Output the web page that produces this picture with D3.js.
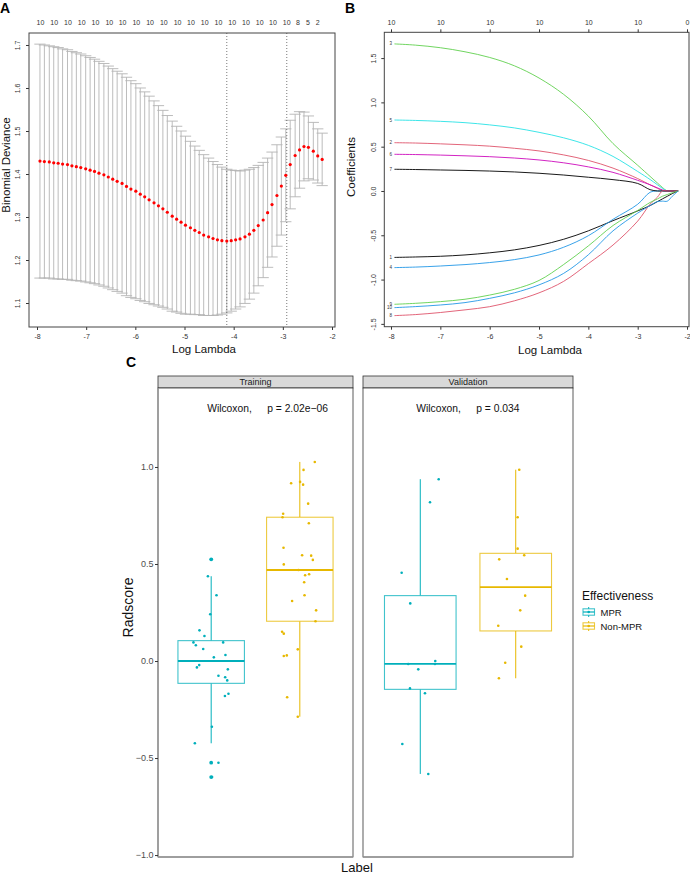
<!DOCTYPE html>
<html>
<head>
<meta charset="utf-8">
<script src="https://cdn.jsdelivr.net/npm/d3@7"></script>
<style>
  body { margin: 0; background: #fff; }
  svg { display: block; }
  text { font-family: "Liberation Sans", Arial, Helvetica, sans-serif; }
</style>
</head>
<body>
<svg id="fig" width="690" height="876"></svg>
<script>
// ---------- A: cross-validated binomial deviance ----------
const cvLogLambda = [
  -7.94, -7.85, -7.75, -7.66, -7.57, -7.48, -7.38, -7.29, -7.20, -7.11,
  -7.01, -6.92, -6.83, -6.74, -6.64, -6.55, -6.46, -6.37, -6.27, -6.18,
  -6.09, -5.99, -5.90, -5.81, -5.72, -5.62, -5.53, -5.44, -5.35, -5.25,
  -5.16, -5.07, -4.98, -4.88, -4.79, -4.70, -4.61, -4.51, -4.42, -4.33,
  -4.24, -4.14, -4.05, -3.96, -3.87, -3.77, -3.68, -3.59, -3.50, -3.40,
  -3.31, -3.22, -3.12, -3.03, -2.94, -2.85, -2.75, -2.66, -2.57, -2.48,
  -2.38, -2.29, -2.20
];
const cvMean = [
  1.430, 1.429, 1.428, 1.426, 1.425, 1.423, 1.422, 1.419, 1.417, 1.415,
  1.412, 1.409, 1.406, 1.402, 1.398, 1.393, 1.388, 1.383, 1.378, 1.371,
  1.365, 1.360, 1.353, 1.347, 1.340, 1.333, 1.326, 1.319, 1.311, 1.302,
  1.295, 1.288, 1.281, 1.275, 1.269, 1.264, 1.258, 1.254, 1.250, 1.247,
  1.245, 1.244, 1.245, 1.247, 1.249, 1.254, 1.260, 1.269, 1.280, 1.293,
  1.310, 1.329, 1.350, 1.372, 1.397, 1.422, 1.443, 1.456, 1.464, 1.462,
  1.453, 1.442, 1.434
];
const cvSd = [
  0.272, 0.271, 0.270, 0.270, 0.269, 0.268, 0.267, 0.266, 0.265, 0.264,
  0.263, 0.262, 0.261, 0.260, 0.259, 0.258, 0.257, 0.256, 0.255, 0.254,
  0.252, 0.250, 0.247, 0.244, 0.241, 0.237, 0.233, 0.229, 0.225, 0.221,
  0.216, 0.212, 0.207, 0.201, 0.196, 0.191, 0.187, 0.183, 0.179, 0.175,
  0.171, 0.167, 0.164, 0.161, 0.158, 0.155, 0.151, 0.146, 0.140, 0.134,
  0.127, 0.122, 0.118, 0.114, 0.108, 0.103, 0.096, 0.089, 0.080, 0.073,
  0.067, 0.063, 0.061
];
const cvTopAt = [-7.93, -7.65, -7.37, -7.09, -6.81, -6.53, -6.26, -5.98, -5.70, -5.42,
  -5.14, -4.87, -4.59, -4.31, -4.03, -3.75, -3.47, -3.20, -2.92, -2.69, -2.49, -2.29];
const cvTopLabels = ['10', '10', '10', '10', '10', '10', '10', '10', '10', '10',
  '10', '10', '10', '10', '10', '10', '10', '10', '10', '8', '5', '2'];
const lambdaMin = -4.14;
const lambda1se = -2.92;
const devianceTicks = [1.1, 1.2, 1.3, 1.4, 1.5, 1.6, 1.7];

// ---------- B: lasso coefficient paths ----------
const pathLogLambda = [-7.93, -7.5, -7, -6.5, -6, -5.5, -5, -4.5, -4, -3.5, -3, -2.75, -2.6, -2.5, -2.4, -2.3, -2.18];
const coef1 = [-0.750, -0.745, -0.737, -0.722, -0.698, -0.665, -0.615, -0.545, -0.450, -0.335, -0.225, -0.165, -0.120, -0.090, -0.060, -0.030, 0];
const coef2 = [0.545, 0.541, 0.532, 0.521, 0.506, 0.482, 0.452, 0.407, 0.345, 0.258, 0.140, 0.070, 0.030, 0.005, 0, 0, 0];
const coef3 = [1.660, 1.646, 1.617, 1.571, 1.507, 1.413, 1.275, 1.090, 0.845, 0.535, 0.290, 0.165, 0.090, 0.040, 0, 0, 0];
const coef4 = [-0.865, -0.859, -0.847, -0.831, -0.808, -0.775, -0.722, -0.635, -0.505, -0.320, -0.150, -0.015, 0, 0, 0, 0, 0];
const coef5 = [0.801, 0.796, 0.786, 0.771, 0.746, 0.712, 0.662, 0.600, 0.515, 0.390, 0.220, 0.130, 0.070, 0.030, 0, 0, 0];
const coef6 = [0.414, 0.411, 0.405, 0.397, 0.387, 0.372, 0.350, 0.318, 0.272, 0.210, 0.120, 0.070, 0.035, 0.012, 0, 0, 0];
const coef7 = [0.245, 0.242, 0.237, 0.232, 0.225, 0.215, 0.200, 0.180, 0.155, 0.128, 0.085, 0.015, 0, 0, 0, 0, 0];
const coef8 = [-1.407, -1.395, -1.372, -1.342, -1.306, -1.240, -1.150, -1.020, -0.820, -0.610, -0.340, -0.150, -0.070, 0, 0, 0, 0];
const coef9 = [-1.279, -1.268, -1.249, -1.222, -1.175, -1.110, -1.010, -0.830, -0.620, -0.390, -0.220, -0.130, -0.090, -0.060, -0.040, -0.020, 0];
const coef10 = [-1.317, -1.305, -1.287, -1.260, -1.212, -1.150, -1.060, -0.930, -0.720, -0.450, -0.250, -0.165, -0.120, -0.115, -0.115, -0.060, 0];
const coefTopLabels = ['10', '10', '10', '10', '10', '10', '0'];
const coefTicks = [-1.5, -1.0, -0.5, 0.0, 0.5, 1.0, 1.5];
const lambdaTicks = [-8, -7, -6, -5, -4, -3, -2];

// ---------- C: radscore by group ----------
const facets = ['Training', 'Validation'];
const groups = ['MPR', 'Non-MPR'];
const pValues = ['2.02e\u221206', '0.034'];
const trainMprScore = [0.524, 0.437, 0.339, 0.241, 0.158, 0.129, 0.096, 0.081, 0.096, 0.062, 0.031, 0.019,
  -0.021, -0.033, -0.043, -0.076, -0.084, -0.100, -0.169, -0.180, -0.339, -0.424, -0.524, -0.598];
const trainMprJit = [0.004, -0.037, 0.060, -0.011, -0.132, -0.076, -0.200, -0.173, 0.135, -0.090, 0.161, 0.030,
  -0.135, -0.161, 0.188, 0.082, 0.158, 0.181, 0.195, 0.155, 0.008, -0.184, 0.082, 0.010];
const trainNonScore = [1.026, 0.985, 0.916, 0.923, 0.909, 0.811, 0.759, 0.741, 0.710, 0.584, 0.545, 0.543, 0.521,
  0.498, 0.469, 0.442, 0.447, 0.406, 0.339, 0.309, 0.261, 0.205, 0.151, 0.141, 0.060, 0.026, 0.029, -0.187, -0.287];
const trainNonJit = [0.169, 0.042, -0.098, 0.003, 0.037, 0.094, -0.188, -0.195, 0.102, -0.184, 0.026, 0.128, 0.147,
  -0.181, -0.015, 0.060, 0.105, 0.049, 0.053, -0.087, 0.184, 0.177, -0.200, -0.181, -0.023, -0.181, -0.147, -0.143, -0.023];
const valMprScore = [0.937, 0.818, 0.455, 0.297, 0.000, -0.015, -0.015, -0.043, -0.141, -0.166, -0.428, -0.582];
const valMprJit = [0.193, 0.102, -0.195, -0.105, 0.157, -0.126, 0.154, -0.021, -0.108, 0.049, -0.188, 0.084];
const valNonScore = [0.986, 0.741, 0.579, 0.545, 0.524, 0.423, 0.337, 0.261, 0.182, 0.074, -0.009, -0.089];
const valNonJit = [0.037, 0.020, 0.020, 0.089, -0.173, -0.092, 0.099, 0.047, -0.183, 0.058, -0.110, -0.176];
// [lower whisker, Q1, median, Q3, upper whisker]
const trainMprBox = [-0.424, -0.115, 0.000, 0.105, 0.437];
const trainNonBox = [-0.287, 0.205, 0.469, 0.741, 1.026];
const valMprBox = [-0.582, -0.146, -0.015, 0.337, 0.937];
const valNonBox = [-0.089, 0.155, 0.381, 0.555, 0.986];
const radTicks = [-1.0, -0.5, 0.0, 0.5, 1.0];

const svg = d3.select('#fig');
const rFmt = d => d.toFixed(1);   // R base graphics uses a plain hyphen

// panel letters
svg.append('text').attr('x', 0).attr('y', 13).attr('font-size', 14).attr('font-weight', 'bold').text('A');
svg.append('text').attr('x', 345).attr('y', 13).attr('font-size', 14).attr('font-weight', 'bold').text('B');
svg.append('text').attr('x', 126).attr('y', 367).attr('font-size', 14).attr('font-weight', 'bold').text('C');

// base-R style axes shared by A and B
function baseAxes(g, x, y, yTicks, box) {
  g.append('g').attr('transform', `translate(0,${box.y1})`)
    .call(d3.axisBottom(x).tickValues(lambdaTicks).tickSize(3).tickPadding(4).tickFormat(d => d))
    .call(s => s.select('.domain').remove())
    .call(s => s.selectAll('line').attr('stroke', '#333'))
    .call(s => s.selectAll('text').attr('font-size', 7).attr('fill', '#333').attr('font-family', null));
  const ya = g.append('g').attr('transform', `translate(${box.x0},0)`)
    .call(d3.axisLeft(y).tickValues(yTicks).tickSize(3).tickFormat(rFmt))
    .call(s => s.select('.domain').remove())
    .call(s => s.selectAll('line').attr('stroke', '#333'));
  ya.selectAll('text')
    .attr('x', null).attr('dy', null)
    .attr('transform', `translate(${box.yLab - box.x0},0) rotate(-90)`)
    .attr('text-anchor', 'middle').attr('font-size', 7).attr('fill', '#333').attr('font-family', null);
  g.append('rect').attr('x', box.x0).attr('y', box.y0)
    .attr('width', box.x1 - box.x0).attr('height', box.y1 - box.y0)
    .attr('fill', 'none').attr('stroke', '#444').attr('stroke-width', 1);
}

// ---------- panel A ----------
const boxA = {x0: 29, x1: 335, y0: 33, y1: 327, yLab: 19.5};
const xA = d3.scaleLinear().domain([-8.163, -1.939]).range([boxA.x0, boxA.x1]);
const yA = d3.scaleLinear().domain([1.0442, 1.7279]).range([boxA.y1, boxA.y0]);
const gA = svg.append('g');

const cv = cvLogLambda.map((l, i) => ({l, m: cvMean[i], up: cvMean[i] + cvSd[i], lo: cvMean[i] - cvSd[i]}));
const barw = (d3.max(cvLogLambda) - d3.min(cvLogLambda)) * 0.02;
const eb = gA.append('g').attr('stroke', '#b4b4b4').attr('stroke-width', 0.9);
eb.selectAll('line.v').data(cv).join('line').attr('class', 'v')
  .attr('x1', d => xA(d.l)).attr('x2', d => xA(d.l)).attr('y1', d => yA(d.up)).attr('y2', d => yA(d.lo));
eb.selectAll('line.u').data(cv).join('line').attr('class', 'u')
  .attr('x1', d => xA(d.l - barw)).attr('x2', d => xA(d.l + barw)).attr('y1', d => yA(d.up)).attr('y2', d => yA(d.up));
eb.selectAll('line.l').data(cv).join('line').attr('class', 'l')
  .attr('x1', d => xA(d.l - barw)).attr('x2', d => xA(d.l + barw)).attr('y1', d => yA(d.lo)).attr('y2', d => yA(d.lo));

gA.selectAll('line.ref').data([lambdaMin, lambda1se]).join('line').attr('class', 'ref')
  .attr('x1', d => xA(d)).attr('x2', d => xA(d)).attr('y1', boxA.y0).attr('y2', boxA.y1)
  .attr('stroke', '#555').attr('stroke-width', 0.8).attr('stroke-dasharray', '1,2');

gA.selectAll('circle').data(cv).join('circle')
  .attr('cx', d => xA(d.l)).attr('cy', d => yA(d.m)).attr('r', 1.6).attr('fill', '#ff0000');

baseAxes(gA, xA, yA, devianceTicks, boxA);
gA.selectAll('text.top').data(cvTopAt).join('text').attr('class', 'top')
  .attr('x', d => xA(d)).attr('y', 25).attr('text-anchor', 'middle')
  .attr('font-size', 7).attr('fill', '#333').text((d, i) => cvTopLabels[i]);
gA.append('text').attr('x', 204).attr('y', 353).attr('text-anchor', 'middle')
  .attr('font-size', 11.5).attr('fill', '#111').text('Log Lambda');
gA.append('text').attr('transform', 'translate(9.5,165) rotate(-90)').attr('text-anchor', 'middle')
  .attr('font-size', 11.5).attr('fill', '#111').text('Binomial Deviance');

// ---------- panel B ----------
const boxB = {x0: 384.3, x1: 689, y0: 32.3, y1: 326.7, yLab: 376};
const xB = d3.scaleLinear().domain([-8.136, -1.96]).range([boxB.x0, boxB.x1]);
const yB = d3.scaleLinear().domain([-1.532, 1.791]).range([boxB.y1, boxB.y0]);
const gB = svg.append('g');
const coefs = [coef1, coef2, coef3, coef4, coef5, coef6, coef7, coef8, coef9, coef10];
const rPalette = ['#000000', '#DF536B', '#61D04F', '#2297E6', '#28E2E5', '#CD0BBC'];
const pathLine = d3.line().x(d => xB(d[0])).y(d => yB(d[1])).curve(d3.curveCatmullRom.alpha(0.5));

gB.selectAll('path.coef').data(coefs).join('path').attr('class', 'coef')
  .attr('d', c => pathLine(pathLogLambda.map((l, i) => [l, c[i]])))
  .attr('fill', 'none').attr('stroke-width', 0.9)
  .attr('stroke', (c, i) => rPalette[i % rPalette.length]);
gB.selectAll('text.var').data(coefs).join('text').attr('class', 'var')
  .attr('x', xB(pathLogLambda[0]) - 2.5).attr('y', c => yB(c[0]) + 1.5)
  .attr('text-anchor', 'end').attr('font-size', 4.5).attr('fill', '#333')
  .text((c, i) => i + 1);

baseAxes(gB, xB, yB, coefTicks, boxB);
gB.append('g').attr('transform', `translate(0,${boxB.y0})`)
  .call(d3.axisTop(xB).tickValues(lambdaTicks).tickSize(3).tickPadding(4).tickFormat((d, i) => coefTopLabels[i]))
  .call(s => s.select('.domain').remove())
  .call(s => s.selectAll('line').attr('stroke', '#333'))
  .call(s => s.selectAll('text').attr('font-size', 7).attr('fill', '#333').attr('font-family', null));
gB.append('text').attr('x', 550).attr('y', 354).attr('text-anchor', 'middle')
  .attr('font-size', 11.5).attr('fill', '#111').text('Log Lambda');
gB.append('text').attr('transform', 'translate(355,167) rotate(-90)').attr('text-anchor', 'middle')
  .attr('font-size', 11.5).attr('fill', '#111').text('Coefficients');

// ---------- panel C ----------
const groupColor = {'MPR': '#00AFBB', 'Non-MPR': '#E7B800'};
const yC = d3.scaleLinear().domain([-1.010, 1.407]).range([857, 388]);
const stripTop = 376;
const panels = [
  {name: facets[0], x0: 158, x1: 353, p: pValues[0], sets: [
    {g: groups[0], box: trainMprBox, score: trainMprScore, jit: trainMprJit},
    {g: groups[1], box: trainNonBox, score: trainNonScore, jit: trainNonJit}]},
  {name: facets[1], x0: 363, x1: 573, p: pValues[1], sets: [
    {g: groups[0], box: valMprBox, score: valMprScore, jit: valMprJit},
    {g: groups[1], box: valNonBox, score: valNonScore, jit: valNonJit}]}
];
const gC = svg.append('g');

panels.forEach((pn, k) => {
  const g = gC.append('g');
  const xs = d3.scalePoint().domain(groups).range([pn.x0, pn.x1]).padding(0.6);
  const step = xs.step();
  const bw = step * 0.75;

  g.append('rect').attr('x', pn.x0).attr('y', stripTop).attr('width', pn.x1 - pn.x0)
    .attr('height', yC.range()[1] - stripTop).attr('fill', '#d9d9d9').attr('stroke', '#333').attr('stroke-width', 0.8);
  g.append('text').attr('x', (pn.x0 + pn.x1) / 2).attr('y', 384.5).attr('text-anchor', 'middle')
    .attr('font-size', 9).attr('fill', '#1a1a1a').text(pn.name);
  g.append('rect').attr('x', pn.x0).attr('y', yC.range()[1]).attr('width', pn.x1 - pn.x0)
    .attr('height', yC.range()[0] - yC.range()[1]).attr('fill', '#fff').attr('stroke', '#333').attr('stroke-width', 0.8);
  g.append('line').attr('x1', pn.x0).attr('x2', pn.x1).attr('y1', yC.range()[0]).attr('y2', yC.range()[0])
    .attr('stroke', '#9a9a9a').attr('stroke-width', 1.4);
  if (k === 0) {
    g.append('line').attr('x1', pn.x0).attr('x2', pn.x0).attr('y1', yC.range()[1]).attr('y2', yC.range()[0])
      .attr('stroke', '#9a9a9a').attr('stroke-width', 1.4);
    g.append('g').attr('transform', `translate(${pn.x0},0)`)
      .call(d3.axisLeft(yC).tickValues(radTicks).tickSize(3).tickPadding(1.5).tickFormat(d3.format('.1f')))
      .call(s => s.select('.domain').remove())
      .call(s => s.selectAll('line').attr('stroke', '#333'))
      .call(s => s.selectAll('text').attr('font-size', 9).attr('fill', '#4d4d4d').attr('font-family', null));
  }

  pn.sets.forEach(set => {
    const cx = xs(set.g), col = groupColor[set.g], b = set.box;
    const bg = g.append('g').attr('stroke', col).attr('fill', 'none');
    bg.selectAll('line.w').data([[b[0], b[1]], [b[3], b[4]]]).join('line').attr('class', 'w')
      .attr('x1', cx).attr('x2', cx).attr('y1', d => yC(d[0])).attr('y2', d => yC(d[1])).attr('stroke-width', 1);
    bg.append('rect').attr('x', cx - bw / 2).attr('y', yC(b[3])).attr('width', bw)
      .attr('height', yC(b[1]) - yC(b[3])).attr('fill', '#fff').attr('stroke-width', 1.1).attr('stroke-opacity', 0.75);
    bg.append('line').attr('x1', cx - bw / 2).attr('x2', cx + bw / 2)
      .attr('y1', yC(b[2])).attr('y2', yC(b[2])).attr('stroke-width', 1.8);
    const outl = set.score.filter(v => v > b[4] || v < b[0]);
    g.selectAll(null).data(outl).join('circle')
      .attr('cx', cx).attr('cy', d => yC(d)).attr('r', 1.9).attr('fill', col);
    g.selectAll(null).data(set.score).join('circle')
      .attr('cx', (d, i) => cx + set.jit[i] * step).attr('cy', d => yC(d)).attr('r', 1.3).attr('fill', col);
  });

  const lx = xs(groups[0]) - 4;
  g.append('text').attr('x', lx).attr('y', 412).attr('font-size', 10.3).attr('fill', '#111').text('Wilcoxon,');
  g.append('text').attr('x', lx + 60).attr('y', 412).attr('font-size', 10.3).attr('fill', '#111').text('p = ' + pn.p);
});

gC.append('text').attr('transform', 'translate(133,607.5) rotate(-90)').attr('text-anchor', 'middle')
  .attr('font-size', 14).attr('fill', '#111').text('Radscore');
gC.append('text').attr('x', 357).attr('y', 872).attr('text-anchor', 'middle')
  .attr('font-size', 13).attr('fill', '#111').text('Label');

// legend
const lg = gC.append('g');
lg.append('text').attr('x', 582).attr('y', 600).attr('font-size', 12).attr('fill', '#111').text('Effectiveness');
groups.forEach((gname, i) => {
  const cy = 612 + i * 14, col = groupColor[gname];
  const k = lg.append('g').attr('stroke', col).attr('fill', 'none');
  k.append('line').attr('x1', 588.7).attr('x2', 588.7).attr('y1', cy - 5).attr('y2', cy + 5).attr('stroke-width', 1);
  k.append('rect').attr('x', 583).attr('y', cy - 3.2).attr('width', 11.5).attr('height', 6.4)
    .attr('fill', '#fff').attr('stroke-width', 1.1).attr('stroke-opacity', 0.75);
  k.append('line').attr('x1', 583).attr('x2', 594.5).attr('y1', cy).attr('y2', cy).attr('stroke-width', 1.2);
  lg.append('circle').attr('cx', 588.7).attr('cy', cy).attr('r', 1.3).attr('fill', col);
  lg.append('text').attr('x', 600.5).attr('y', cy + 3.5).attr('font-size', 9.5).attr('fill', '#111').text(gname);
});
</script>
</body>
</html>
